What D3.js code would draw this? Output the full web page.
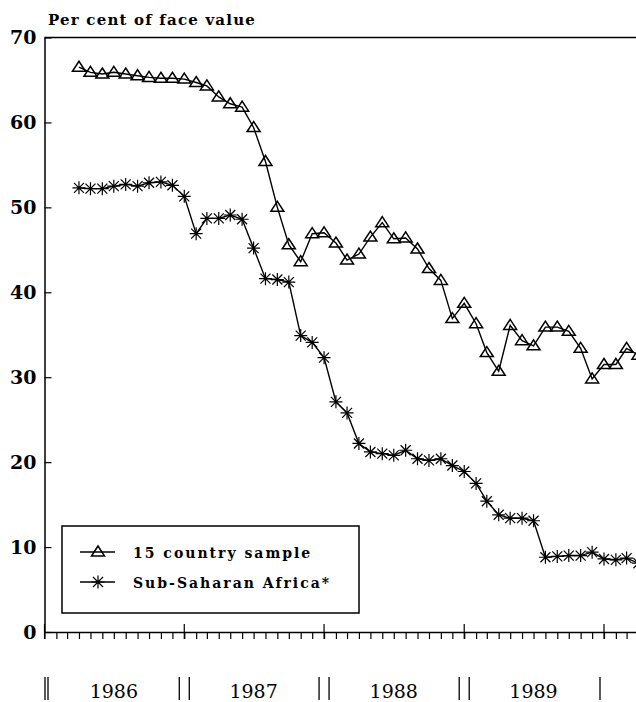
<!DOCTYPE html>
<html>
<head>
<meta charset="utf-8">
<script src="https://cdn.jsdelivr.net/npm/d3@7"></script>
<style>
  body { margin: 0; background: #fff; }
  svg text { font-family: "DejaVu Serif", serif; fill: #000; }
</style>
</head>
<body>
<div id="chart"></div>
<script>
// Monthly observations, April 1986 - April 1990
var startMonth = "1986-04-01";
var endMonth = "1990-05-01";

// 15 country sample (per cent of face value)
var sampleValues = [66.5, 65.9, 65.7, 65.9, 65.7, 65.5, 65.3, 65.2, 65.2, 65.1, 64.7, 64.3,
  63.0, 62.2, 61.8, 59.4, 55.4, 50.0, 45.6, 43.6, 46.9, 47.0, 45.8, 43.8,
  44.5, 46.5, 48.2, 46.3, 46.4, 45.1, 42.8, 41.4, 36.9, 38.7, 36.3, 32.9,
  30.7, 36.1, 34.3, 33.7, 35.9, 35.9, 35.4, 33.4, 29.8, 31.5, 31.5, 33.4, 32.6];

// Sub-Saharan Africa
var africaValues = [52.3, 52.2, 52.2, 52.5, 52.7, 52.5, 52.9, 53.0, 52.6, 51.3, 46.9, 48.7,
  48.7, 49.1, 48.6, 45.2, 41.6, 41.5, 41.2, 34.9, 34.1, 32.3, 27.1, 25.8,
  22.2, 21.2, 21.0, 20.8, 21.4, 20.4, 20.2, 20.4, 19.6, 18.9, 17.5, 15.4,
  13.8, 13.4, 13.4, 13.1, 8.8, 8.9, 9.0, 9.0, 9.4, 8.6, 8.5, 8.7, 8.1];

var years = [1986, 1987, 1988, 1989];
var yTicks = [0, 10, 20, 30, 40, 50, 60, 70];
var seriesNames = ["15 country sample", "Sub-Saharan Africa*"];

var svgWidth = 636;
var svgHeight = 702;
var plotLeft = 44.5, plotTop = 37.5, plotBottom = 632, plotRight = 636;

var svg = d3.select("#chart")
  .append("svg")
  .attr("width", svgWidth)
  .attr("height", svgHeight);

var parse = d3.utcParse("%Y-%m-%d");
var months = d3.utcMonth.range(parse(startMonth), parse(endMonth));

// time scale: one year is about 140px
var x = d3.scaleUtc()
  .domain([Date.UTC(1986, 0, 1), Date.UTC(1990, 0, 1)])
  .range([plotLeft, 604]);
var xAxisScale = x.copy().domain([x.domain()[0], x.invert(plotRight)]).range([plotLeft, plotRight]);

var y = d3.scaleLinear()
  .domain([0, 70])
  .range([plotBottom, plotTop]);

svg.append("defs").append("clipPath").attr("id", "plot")
  .append("rect").attr("x", plotLeft).attr("y", 0)
  .attr("width", plotRight - plotLeft).attr("height", svgHeight);

// title
svg.append("text")
  .attr("x", 48).attr("y", 25)
  .style("font-size", "15px").style("font-weight", "bold")
  .style("letter-spacing", "1.2px")
  .text("Per cent of face value");

// top frame line
svg.append("line")
  .attr("x1", plotLeft).attr("x2", plotRight)
  .attr("y1", y(70)).attr("y2", y(70))
  .attr("stroke", "#000").attr("stroke-width", 1.5);

// y axis
var yAxis = svg.append("g")
  .attr("transform", `translate(${plotLeft},0)`)
  .call(d3.axisLeft(y).tickValues(yTicks).tickSize(-7).tickSizeOuter(0).tickPadding(8));
yAxis.select(".domain").attr("stroke-width", 1.5);
yAxis.selectAll(".tick line").attr("stroke-width", 1.2);
yAxis.selectAll("text")
  .style("font-size", "19px").style("font-weight", "bold")
  .style("font-family", "DejaVu Serif");

// x axis, monthly ticks
var xAxis = svg.append("g")
  .attr("transform", `translate(0,${plotBottom})`)
  .call(d3.axisBottom(xAxisScale)
    .tickValues(d3.utcMonth.range(x.domain()[0], xAxisScale.domain()[1]))
    .tickSize(7).tickSizeOuter(0).tickFormat(""));
xAxis.select(".domain").attr("stroke-width", 1.5);
xAxis.selectAll(".tick line").attr("stroke-width", 1.2);

// year ticks
svg.append("g").selectAll("line")
  .data(years.concat([1990]))
  .enter().append("line")
  .attr("x1", d => x(Date.UTC(d, 0, 1))).attr("x2", d => x(Date.UTC(d, 0, 1)))
  .attr("y1", plotBottom - 8).attr("y2", plotBottom + 7)
  .attr("stroke", "#000").attr("stroke-width", 1.2);

// year labels and separators
svg.append("g").selectAll("text")
  .data(years)
  .enter().append("text")
  .attr("x", d => x(Date.UTC(d, 6, 1)))
  .attr("y", 698)
  .attr("text-anchor", "middle")
  .style("font-size", "19px")
  .text(d => d);

var seps = [];
years.forEach(function(d, i) {
  var off = i == 0 ? [0.5, 3.5] : [-5, 5];
  off.forEach(o => seps.push(x(Date.UTC(d, 0, 1)) + o));
});
seps.push(x(Date.UTC(1990, 0, 1)) - 4);
svg.append("g").selectAll("line")
  .data(seps)
  .enter().append("line")
  .attr("x1", d => d).attr("x2", d => d)
  .attr("y1", 677).attr("y2", 700)
  .attr("stroke", "#000").attr("stroke-width", 1.3);

// markers
var triPath = "M0,-6L6.5,4L-6.5,4Z";
var starPath = "M0,-6.5V6.5M-6.5,0H6.5M-5,-5L5,5M-5,5L5,-5";

var plot = svg.append("g").attr("clip-path", "url(#plot)");

var line = d3.line()
  .x((d, i) => x(months[i]))
  .y(d => y(d));

[sampleValues, africaValues].forEach(function(vals, s) {
  plot.append("path")
    .datum(vals)
    .attr("d", line)
    .attr("fill", "none")
    .attr("stroke", "#000")
    .attr("stroke-width", 1.4);

  plot.append("g").selectAll("path")
    .data(vals)
    .enter().append("path")
    .attr("transform", (d, i) => `translate(${x(months[i])},${y(d)})`)
    .attr("d", s == 0 ? triPath : starPath)
    .attr("fill", "none")
    .attr("stroke", "#000")
    .attr("stroke-width", s == 0 ? 1.5 : 1.2);
});

// legend
var legend = svg.append("g");
legend.append("rect")
  .attr("x", 62).attr("y", 526).attr("width", 297).attr("height", 87)
  .attr("fill", "#fff").attr("stroke", "#000").attr("stroke-width", 1.5);

var rows = legend.selectAll("g.row")
  .data(seriesNames)
  .enter().append("g")
  .attr("class", "row")
  .attr("transform", (d, i) => `translate(0,${552 + i * 30})`);
rows.append("line")
  .attr("x1", 80).attr("x2", 115)
  .attr("stroke", "#000").attr("stroke-width", 1.4);
rows.append("path")
  .attr("transform", "translate(98,0)")
  .attr("d", (d, i) => i == 0 ? triPath : starPath)
  .attr("fill", "none").attr("stroke", "#000")
  .attr("stroke-width", (d, i) => i == 0 ? 1.5 : 1.2);
rows.append("text")
  .attr("x", 133).attr("y", 6)
  .style("font-size", "14px").style("font-weight", "bold")
  .style("letter-spacing", "2px")
  .text(d => d);
</script>
</body>
</html>
